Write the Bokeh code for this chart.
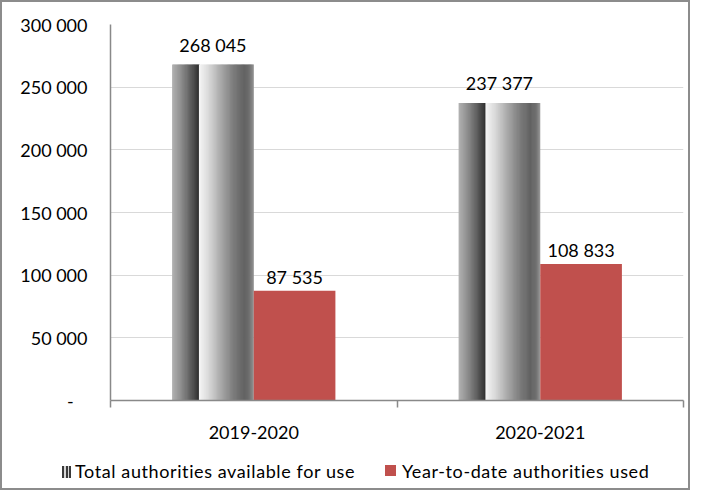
from bokeh.plotting import figure
from bokeh.layouts import column
from bokeh.models import Range1d, FixedTicker, ColumnDataSource, Div
from bokeh.core.properties import value
from bokeh.embed import file_html
from bokeh.resources import INLINE

# ---- data ----
categories = ["2019-2020", "2020-2021"]
total_available = [268045, 237377]
ytd_used = [87535, 108833]
y_ticks = [0, 50000, 100000, 150000, 200000, 250000, 300000]
series_names = ["Total authorities available for use", "Year-to-date authorities used"]

FONT = "Lato"
FS = "18px"
RED = "#c0504d"
AXIS = "#898989"
BAR_W = 0.285

def fmt(v):
    return f"{v:,}".replace(",", " ")

W = 686
H_MAIN, H_LEG = 448, 38
p = figure(width=W, height=H_MAIN, output_backend="svg", toolbar_location=None,
           x_range=Range1d(0, len(categories)), y_range=Range1d(0, y_ticks[-1]),
           min_border_left=108, min_border_right=5, min_border_top=22, min_border_bottom=50)
p.outline_line_color = None
p.background_fill_color = "white"
p.border_fill_color = "white"

# ---- cylindrical gradient bars (stripes) ----
stops = [(0.0, 178), (0.1, 145), (0.2, 105), (0.3, 60), (0.322, 48), (0.33, 246),
         (0.45, 216), (0.6, 168), (0.75, 124), (0.88, 98), (0.95, 112), (1.0, 150)]

def grey_at(t):
    for (t0, g0), (t1, g1) in zip(stops[:-1], stops[1:]):
        if t0 <= t <= t1:
            f = 0 if t1 == t0 else (t - t0) / (t1 - t0)
            g = int(round(g0 + (g1 - g0) * f))
            return "#%02x%02x%02x" % (g, g, g)
    return "#969696"

N = 70
sl, sr, st, sb, sc = [], [], [], [], []
for i, v in enumerate(total_available):
    x0 = i + 0.5 - BAR_W
    dw = BAR_W / N
    for k in range(N):
        t = (k + 0.5) / N
        sl.append(x0 + k * dw)
        sr.append(x0 + (k + 1) * dw + (dw * 0.6 if k < N - 1 else 0))
        st.append(v)
        sb.append(0)
        sc.append(grey_at(t))
p.quad(left=sl, right=sr, top=st, bottom=sb, fill_color=sc, line_color=None)

# ---- red bars ----
red_src = ColumnDataSource(dict(x=[i + 0.5 + BAR_W / 2 for i in range(len(categories))], top=ytd_used))
p.vbar(x="x", top="top", width=BAR_W, source=red_src, fill_color=RED, line_color=None)

# ---- data labels ----
p.text(x=[i + 0.5 - BAR_W / 2 for i in range(len(categories))], y=total_available,
       text=[fmt(v) for v in total_available], text_align="center", text_baseline="alphabetic",
       y_offset=-20, text_font=value(FONT), text_font_size=FS, text_color="#000000")
p.text(x=[i + 0.5 + BAR_W / 2 for i in range(len(categories))], y=ytd_used,
       text=[fmt(v) for v in ytd_used], text_align="center", text_baseline="alphabetic",
       y_offset=-14, text_font=value(FONT), text_font_size=FS, text_color="#000000")

# ---- axes ----
p.xgrid.grid_line_color = None
p.ygrid.grid_line_color = "#d9d9d9"
p.ygrid.grid_line_width = 1
p.ygrid.ticker = FixedTicker(ticks=y_ticks)

p.yaxis.ticker = FixedTicker(ticks=y_ticks)
ov = {v: fmt(v) for v in y_ticks}
ov[0] = "-\u00a0\u00a0\u00a0"
p.yaxis.major_label_overrides = ov
p.yaxis.major_tick_out = 6
p.yaxis.major_tick_in = 0
p.yaxis.minor_tick_line_color = None
p.yaxis.major_label_standoff = 17

p.xaxis.ticker = FixedTicker(ticks=[i + 0.5 for i in range(len(categories))],
                             minor_ticks=list(range(len(categories) + 1)))
p.xaxis.major_label_overrides = {i + 0.5: c for i, c in enumerate(categories)}
p.xaxis.minor_tick_out = 7
p.xaxis.minor_tick_in = 0
p.xaxis.minor_tick_line_color = AXIS
p.xaxis.minor_tick_line_width = 1.5
p.xaxis.major_label_standoff = 18

for ax in (p.xaxis, p.yaxis):
    ax.axis_line_color = AXIS
    ax.axis_line_width = 1.5
    ax.major_tick_line_color = AXIS if ax is p.yaxis else None
    ax.major_tick_line_width = 1.5
    ax.major_label_text_font = FONT
    ax.major_label_text_font_size = FS
    ax.major_label_text_color = "#000000"

# ---- legend (HTML strip below the plot) ----
stripe_icon = ("repeating-linear-gradient(90deg,#3a3a3a 0px,#3a3a3a 2px,"
               "#d6d6d6 2px,#d6d6d6 3.5px)")
legend_html = f"""
<div style="position:relative;width:{W}px;height:{H_LEG}px;font-family:Lato,sans-serif;
font-size:18px;color:#000;letter-spacing:0.6px;white-space:nowrap;">
<span style="position:absolute;left:60px;top:16px;width:9px;height:12px;background:{stripe_icon};"></span>
<span style="position:absolute;left:73px;top:10px;line-height:22px;">{series_names[0]}</span>
<span style="position:absolute;left:383px;top:15px;width:11px;height:11px;background:{RED};"></span>
<span style="position:absolute;left:400px;top:10px;line-height:22px;">{series_names[1]}</span>
</div>
"""
lg = Div(text=legend_html, width=W, height=H_LEG, margin=0)

layout = column(p, lg, spacing=0)
layout.styles = {"border": "2px solid #8c8c8c"}

open("out.html", "w").write(file_html(layout, INLINE))
